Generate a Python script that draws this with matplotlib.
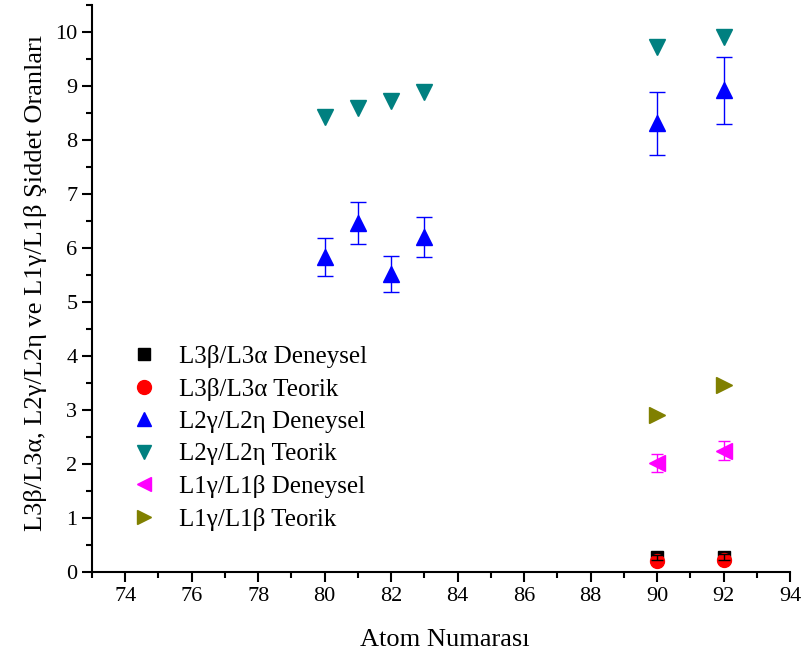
import numpy as np
import matplotlib.pyplot as plt
from matplotlib.ticker import MultipleLocator
from matplotlib.lines import Line2D

plt.rcParams['font.family'] = ['Liberation Serif', 'DejaVu Serif']

# L3b/L3a
z_l3 = [90, 92]
l3_dene = [0.27, 0.28]
l3_dene_err = [0.05, 0.05]
l3_teo = [0.21, 0.23]

# L2g/L2n
z_l2 = [80, 81, 82, 83, 90, 92]
l2_dene = [5.83, 6.47, 5.52, 6.21, 8.31, 8.92]
l2_dene_err = [0.35, 0.39, 0.33, 0.37, 0.58, 0.62]
l2_teo = [8.43, 8.59, 8.72, 8.89, 9.72, 9.91]

# L1g/L1b
z_l1 = [90, 92]
l1_dene = [2.02, 2.25]
l1_dene_err = [0.17, 0.18]
l1_teo = [2.91, 3.46]

labels = ['L3β/L3α Deneysel', 'L3β/L3α Teorik', 'L2γ/L2η Deneysel',
          'L2γ/L2η Teorik', 'L1γ/L1β Deneysel', 'L1γ/L1β Teorik']

fig = plt.figure(figsize=(8.04, 6.59), dpi=100)
ax = fig.add_axes([0.1144, 0.132, 0.8682, 0.8604])

ax.plot(z_l3, l3_dene, 's', color='black', ms=8, zorder=3)
ax.plot(z_l3, l3_teo, 'o', color='red', ms=10, zorder=4)
ax.errorbar(z_l3, l3_dene, yerr=l3_dene_err, fmt='none', ecolor='black',
            elinewidth=1, capsize=4, zorder=5)

ax.errorbar(z_l2, l2_dene, yerr=l2_dene_err, fmt='^', color='blue', ms=11,
            ecolor='blue', elinewidth=1, capsize=6, capthick=1, zorder=3)
ax.plot(z_l2, l2_teo, 'v', color='#008080', ms=11, zorder=3)

ax.errorbar(z_l1, l1_dene, yerr=l1_dene_err, fmt='<', color='magenta', ms=11,
            ecolor='magenta', elinewidth=1, capsize=4.5, capthick=1, zorder=3)
ax.plot(z_l1, l1_teo, '>', color='#808000', ms=11, zorder=3)

ax.set_xlim(73, 94)
ax.set_ylim(0, 10.5)
ax.set_xticks(np.arange(74, 95, 2))
ax.xaxis.set_minor_locator(MultipleLocator(1))
ax.yaxis.set_major_locator(MultipleLocator(1))
ax.yaxis.set_minor_locator(MultipleLocator(0.5))

ax.spines['top'].set_visible(False)
ax.spines['right'].set_visible(False)
ax.spines['left'].set_linewidth(1.5)
ax.spines['bottom'].set_linewidth(1.5)
ax.tick_params(which='major', direction='out', length=7, width=1.5, labelsize=16)
ax.tick_params(which='minor', direction='out', length=4, width=1.5)
ax.tick_params(axis='x', pad=4)

ax.set_xlabel('Atom Numarası', fontsize=19)
ax.xaxis.set_label_coords(0.505, -0.100)
ax.set_ylabel('L3β/L3α, L2γ/L2η ve L1γ/L1β Şiddet Oranları', fontsize=19)
ax.yaxis.set_label_coords(-0.064, 0.51)

handles = [
    Line2D([], [], ls='none', marker='s', color='black', ms=8),
    Line2D([], [], ls='none', marker='o', color='red', ms=10),
    Line2D([], [], ls='none', marker='^', color='blue', ms=10),
    Line2D([], [], ls='none', marker='v', color='#008080', ms=10),
    Line2D([], [], ls='none', marker='<', color='magenta', ms=10),
    Line2D([], [], ls='none', marker='>', color='#808000', ms=10),
]
ax.legend(handles, labels, loc='upper left', bbox_to_anchor=(0.042, 0.418),
          frameon=False, fontsize=18, handlelength=1.0, handletextpad=0.9,
          labelspacing=0.39, borderaxespad=0)

fig.savefig('out.png', dpi=100)
